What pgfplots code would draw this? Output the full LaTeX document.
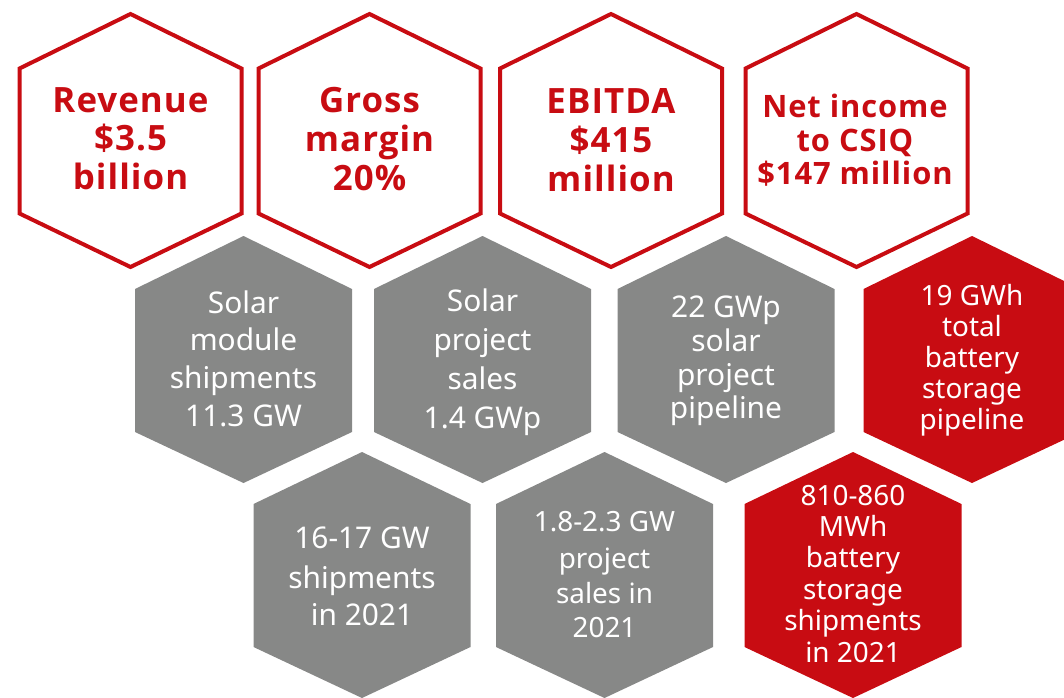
\documentclass[border=0pt]{standalone}
\usepackage{fontspec}
\setmainfont{Noto Sans}
\newfontfamily\osans{Open Sans}[LetterSpace=3]
\usepackage{pgfplots}
\pgfplotsset{compat=1.18}
\definecolor{csred}{RGB}{200,12,18}
\definecolor{csgray}{RGB}{135,136,135}
\newcommand\fb{\osans\bfseries\fontsize{35}{40}\selectfont}
\newcommand\fbs{\osans\bfseries\fontsize{31}{34}\selectfont}
\newcommand\fg{\fontsize{30}{34}\selectfont}
\newcommand\fgs{\fontsize{28}{32}\selectfont}
\begin{document}
\begin{tikzpicture}
\begin{axis}[hide axis, scale only axis, width=1064bp, height=697bp,
  xmin=0, xmax=1064, ymin=0, ymax=697, y dir=reverse, clip=true]
% top row: outlined hexagons
\addplot[draw=csred, line width=4bp, line join=miter, fill=white] coordinates {(130.5,14) (241.5,68.5) (241.5,213.5) (130.5,267) (19.5,213.5) (19.5,68.5)} -- cycle;
\addplot[draw=csred, line width=4bp, line join=miter, fill=white] coordinates {(369.5,14) (480.5,68.5) (480.5,213.5) (369.5,267) (258.5,213.5) (258.5,68.5)} -- cycle;
\addplot[draw=csred, line width=4bp, line join=miter, fill=white] coordinates {(611,14) (722,68.5) (722,213.5) (611,267) (500,213.5) (500,68.5)} -- cycle;
\addplot[draw=csred, line width=4bp, line join=miter, fill=white] coordinates {(856.5,14) (967.5,68.5) (967.5,213.5) (856.5,267) (745.5,213.5) (745.5,68.5)} -- cycle;
% second row
\addplot[draw=none, fill=csgray] coordinates {(243.5,236) (352,289) (352,432) (243.5,483) (135,432) (135,289)} -- cycle;
\addplot[draw=none, fill=csgray] coordinates {(482.5,236) (591,289) (591,432) (482.5,483) (374,432) (374,289)} -- cycle;
\addplot[draw=none, fill=csgray] coordinates {(726,236) (834.5,289) (834.5,432) (726,483) (617.5,432) (617.5,289)} -- cycle;
\addplot[draw=none, fill=csred] coordinates {(972,236) (1080.5,289) (1080.5,432) (972,483) (863.5,432) (863.5,289)} -- cycle;
% third row
\addplot[draw=none, fill=csgray] coordinates {(362,452) (470.5,504) (470.5,647) (362,698) (253.5,647) (253.5,504)} -- cycle;
\addplot[draw=none, fill=csgray] coordinates {(604.5,452) (713,504) (713,647) (604.5,698) (496,647) (496,504)} -- cycle;
\addplot[draw=none, fill=csred] coordinates {(853,452) (961.5,504) (961.5,647) (853,698) (744.5,647) (744.5,504)} -- cycle;
% texts top row
\node[anchor=base, text=csred, font=\fb] at (axis cs:130.5,112) {Revenue};
\node[anchor=base, text=csred, font=\fb] at (axis cs:130.5,150.5) {\$3.5};
\node[anchor=base, text=csred, font=\fb] at (axis cs:130.5,189.5) {billion};
\node[anchor=base, text=csred, font=\fb] at (axis cs:369.5,112) {Gross};
\node[anchor=base, text=csred, font=\fb] at (axis cs:369.5,151) {margin};
\node[anchor=base, text=csred, font=\fb] at (axis cs:369.5,190) {20\%};
\node[anchor=base, text=csred, font=\fb] at (axis cs:611,113) {EBITDA};
\node[anchor=base, text=csred, font=\fb] at (axis cs:611,152) {\$415};
\node[anchor=base, text=csred, font=\fb] at (axis cs:611,191) {million};
\node[anchor=base, text=csred, font=\fbs] at (axis cs:855,117) {Net income};
\node[anchor=base, text=csred, font=\fbs] at (axis cs:855,151) {to CSIQ};
\node[anchor=base, text=csred, font=\fbs] at (axis cs:855,184) {\$147 million};
% second row texts
\node[anchor=base, text=white, font=\fg] at (axis cs:243.5,313) {Solar};
\node[anchor=base, text=white, font=\fg] at (axis cs:243.5,350.5) {module};
\node[anchor=base, text=white, font=\fg] at (axis cs:243.5,388) {shipments};
\node[anchor=base, text=white, font=\fg] at (axis cs:243.5,426) {11.3 GW};
\node[anchor=base, text=white, font=\fg] at (axis cs:482.5,311) {Solar};
\node[anchor=base, text=white, font=\fg] at (axis cs:482.5,350) {project};
\node[anchor=base, text=white, font=\fg] at (axis cs:482.5,389) {sales};
\node[anchor=base, text=white, font=\fg] at (axis cs:482.5,428) {1.4 GWp};
\node[anchor=base, text=white, font=\fg] at (axis cs:726,317) {22 GWp};
\node[anchor=base, text=white, font=\fg] at (axis cs:726,351) {solar};
\node[anchor=base, text=white, font=\fg] at (axis cs:726,385) {project};
\node[anchor=base, text=white, font=\fg] at (axis cs:726,418.5) {pipeline};
\node[anchor=base, text=white, font=\fgs] at (axis cs:972,305) {19 GWh};
\node[anchor=base, text=white, font=\fgs] at (axis cs:972,336) {total};
\node[anchor=base, text=white, font=\fgs] at (axis cs:972,367) {battery};
\node[anchor=base, text=white, font=\fgs] at (axis cs:972,398) {storage};
\node[anchor=base, text=white, font=\fgs] at (axis cs:972,429) {pipeline};
% third row texts
\node[anchor=base, text=white, font=\fg] at (axis cs:362,548) {16-17 GW};
\node[anchor=base, text=white, font=\fg] at (axis cs:362,588) {shipments};
\node[anchor=base, text=white, font=\fg] at (axis cs:362,625) {in 2021};
\node[anchor=base, text=white, font=\fgs] at (axis cs:604.5,531) {1.8-2.3 GW};
\node[anchor=base, text=white, font=\fgs] at (axis cs:604.5,568) {project};
\node[anchor=base, text=white, font=\fgs] at (axis cs:604.5,603) {sales in};
\node[anchor=base, text=white, font=\fgs] at (axis cs:604.5,637) {2021};
\node[anchor=base, text=white, font=\fgs] at (axis cs:853,505) {810-860};
\node[anchor=base, text=white, font=\fgs] at (axis cs:853,536) {MWh};
\node[anchor=base, text=white, font=\fgs] at (axis cs:853,567) {battery};
\node[anchor=base, text=white, font=\fgs] at (axis cs:853,599) {storage};
\node[anchor=base, text=white, font=\fgs] at (axis cs:853,630) {shipments};
\node[anchor=base, text=white, font=\fgs] at (axis cs:853,662) {in 2021};
\end{axis}
\pgfresetboundingbox
\useasboundingbox (current axis.south west) rectangle (current axis.north east);
\end{tikzpicture}
\end{document}
